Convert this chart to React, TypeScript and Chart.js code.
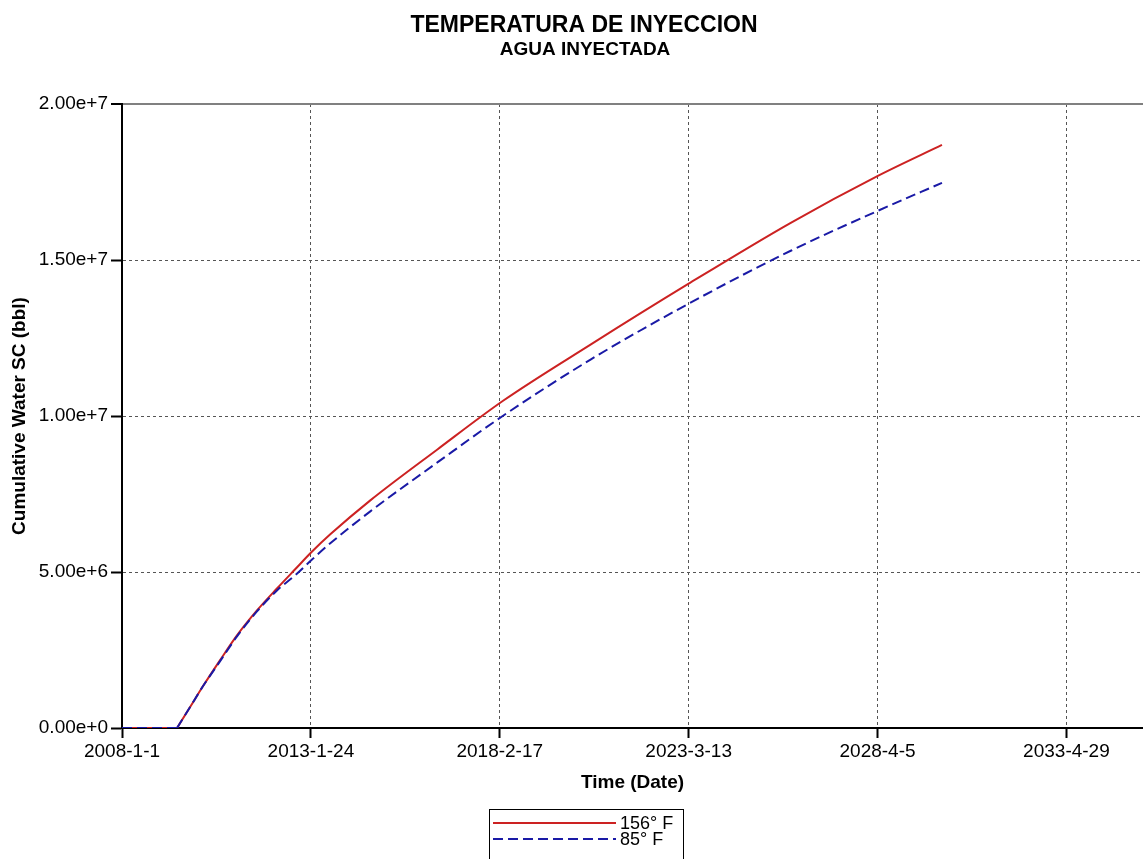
import React, { useEffect, useRef } from "react";
import { Chart, registerables } from "chart.js";

Chart.register(...registerables);

const FONT = '"Liberation Sans", Arial, sans-serif';

const TITLE = "TEMPERATURA DE INYECCION";
const SUBTITLE = "AGUA INYECTADA";
const X_TITLE = "Time (Date)";
const Y_TITLE = "Cumulative Water SC (bbl)";

const START_DATE = "2008-1-1";
const X_MAX_DATE = "2035-5-19";
const X_TICK_DATES = ["2008-1-1", "2013-1-24", "2018-2-17", "2023-3-13", "2028-4-5", "2033-4-29"];
const Y_TICKS = [0, 5e6, 1e7, 1.5e7, 2e7];

const SERIES_LABELS = ["156° F", "85° F"];

// days elapsed since START_DATE
const DAYS = [
  0, 539, 667, 794, 961, 1128, 1324, 1520, 1696, 1864,
  2040, 2432, 3089, 3736, 4589, 5550, 6550, 7403, 8031,
];

// cumulative water injected (bbl)
const WATER_156F = [
  0, 0, 0.672e6, 1.344e6, 2.176e6, 2.976e6, 3.776e6, 4.48e6, 5.088e6, 5.664e6,
  6.208e6, 7.296e6, 8.928e6, 10.496e6, 12.288e6, 14.24e6, 16.192e6, 17.696e6, 18.688e6,
];

const WATER_85F = [
  0, 0, 0.672e6, 1.344e6, 2.144e6, 2.944e6, 3.744e6, 4.416e6, 4.896e6, 5.408e6,
  5.92e6, 6.944e6, 8.512e6, 10.016e6, 11.808e6, 13.6e6, 15.296e6, 16.576e6, 17.472e6,
];

const COLORS = ["#cc2222", "#1a1aa6"];

function parseDate(s: string): number {
  const [y, m, d] = s.split("-").map(Number);
  return Date.UTC(y, m - 1, d);
}
const T0 = parseDate(START_DATE);
function toDays(s: string): number {
  return Math.round((parseDate(s) - T0) / 86400000);
}
function fmtDays(v: number): string {
  const dt = new Date(T0 + Math.round(v) * 86400000);
  return `${dt.getUTCFullYear()}-${dt.getUTCMonth() + 1}-${dt.getUTCDate()}`;
}

const titlePlugin = {
  id: "titles",
  afterDraw(chart: any) {
    const ctx = chart.ctx;
    ctx.save();
    ctx.fillStyle = "#000";
    ctx.textAlign = "center";
    ctx.textBaseline = "alphabetic";
    ctx.font = `bold 23px ${FONT}`;
    ctx.fillText(TITLE, 584, 32);
    ctx.font = `bold 19px ${FONT}`;
    ctx.fillText(SUBTITLE, 585, 55);
    ctx.restore();
  },
};

const legendPlugin = {
  id: "boxLegend",
  afterDraw(chart: any) {
    const ctx = chart.ctx;
    const bx = 489.5, by = 809.5, bw = 194, bh = 70;
    ctx.save();
    ctx.strokeStyle = "#000";
    ctx.lineWidth = 1;
    ctx.strokeRect(bx, by, bw, bh);
    ctx.font = `18px ${FONT}`;
    ctx.textBaseline = "middle";
    ctx.textAlign = "left";
    const items = chart.data.datasets.filter((ds: any) => ds.label);
    items.forEach((ds: any, i: number) => {
      const y = 823 + i * 16;
      ctx.strokeStyle = ds.borderColor;
      ctx.lineWidth = 2;
      ctx.setLineDash(ds.borderDash || []);
      ctx.beginPath();
      ctx.moveTo(493, y);
      ctx.lineTo(616, y);
      ctx.stroke();
      ctx.setLineDash([]);
      ctx.fillStyle = "#000";
      ctx.fillText(ds.label, 620, y + 1);
    });
    ctx.restore();
  },
};

function pts(values: number[], from: number, to: number) {
  const out: { x: number; y: number }[] = [];
  for (let i = from; i <= to; i++) out.push({ x: DAYS[i], y: values[i] });
  return out;
}

export default function App() {
  const ref = useRef<HTMLCanvasElement | null>(null);

  useEffect(() => {
    if (!ref.current) return;
    const last = DAYS.length - 1;
    const common = { borderWidth: 2, pointRadius: 0, fill: false };
    const chart = new Chart(ref.current, {
      type: "line",
      data: {
        datasets: [
          {
            ...common,
            label: SERIES_LABELS[0],
            data: pts(WATER_156F, 1, last),
            borderColor: COLORS[0],
            cubicInterpolationMode: "monotone",
            order: 2,
          },
          {
            ...common,
            label: SERIES_LABELS[1],
            data: pts(WATER_85F, 1, last),
            borderColor: COLORS[1],
            borderDash: [10, 5],
            cubicInterpolationMode: "monotone",
            order: 0,
          },
          {
            ...common,
            label: "",
            data: pts(WATER_156F, 0, 1),
            borderColor: COLORS[0],
            tension: 0,
            order: 3,
          },
          {
            ...common,
            label: "",
            data: pts(WATER_85F, 0, 1),
            borderColor: COLORS[1],
            borderDash: [10, 5],
            tension: 0,
            order: 1,
          },
        ],
      },
      options: {
        animation: false,
        responsive: false,
        devicePixelRatio: 1,
        layout: { padding: { top: 104, left: 0, right: 0, bottom: 61 } },
        plugins: {
          legend: { display: false },
          title: { display: false },
          tooltip: { enabled: false },
        },
        scales: {
          x: {
            type: "linear",
            min: 0,
            max: toDays(X_MAX_DATE),
            afterBuildTicks: (s: any) => {
              s.ticks = X_TICK_DATES.map((d) => ({ value: toDays(d) }));
            },
            afterFit: (s: any) => {
              s.height = 70;
            },
            ticks: {
              callback: (v: any) => fmtDays(Number(v)),
              color: "#000",
              font: { family: FONT, size: 19 },
              padding: 2,
              maxRotation: 0,
              autoSkip: false,
            },
            grid: {
              color: "#555",
              lineWidth: 1,
              tickLength: 10,
              tickColor: "#000",
              tickWidth: 2,
              drawTicks: true,
            },
            border: { display: true, color: "#000", width: 2, dash: [3, 3] },
            title: {
              display: true,
              text: X_TITLE,
              color: "#000",
              font: { family: FONT, size: 19, weight: "bold" },
              padding: { top: 0, bottom: 4 },
            },
          },
          y: {
            type: "linear",
            min: 0,
            max: 2e7,
            afterBuildTicks: (s: any) => {
              s.ticks = Y_TICKS.map((v) => ({ value: v }));
            },
            afterFit: (s: any) => {
              s.width = 122;
            },
            ticks: {
              callback: (v: any) => Number(v).toExponential(2),
              color: "#000",
              font: { family: FONT, size: 19 },
              padding: 3,
            },
            grid: {
              color: (c: any) => (c.tick && c.tick.value === 2e7 ? "#808080" : "#555"),
              lineWidth: (c: any) => (c.tick && c.tick.value === 2e7 ? 2 : 1),
              tickLength: 11,
              tickColor: "#000",
              tickWidth: 2,
              drawTicks: true,
            },
            border: {
              display: true,
              color: "#000",
              width: 2,
              dash: (c: any) => (c.tick && c.tick.value === 2e7 ? [] : [3, 3]),
            },
            title: {
              display: true,
              text: Y_TITLE,
              color: "#000",
              font: { family: FONT, size: 19, weight: "bold" },
              padding: { top: 8, bottom: 0 },
            },
          },
        },
      } as any,
      plugins: [titlePlugin, legendPlugin],
    });
    return () => chart.destroy();
  }, []);

  return (
    <canvas
      ref={ref}
      width={1143}
      height={859}
      style={{ position: "absolute", left: 0, top: 0, width: 1143, height: 859, display: "block" }}
    />
  );
}
